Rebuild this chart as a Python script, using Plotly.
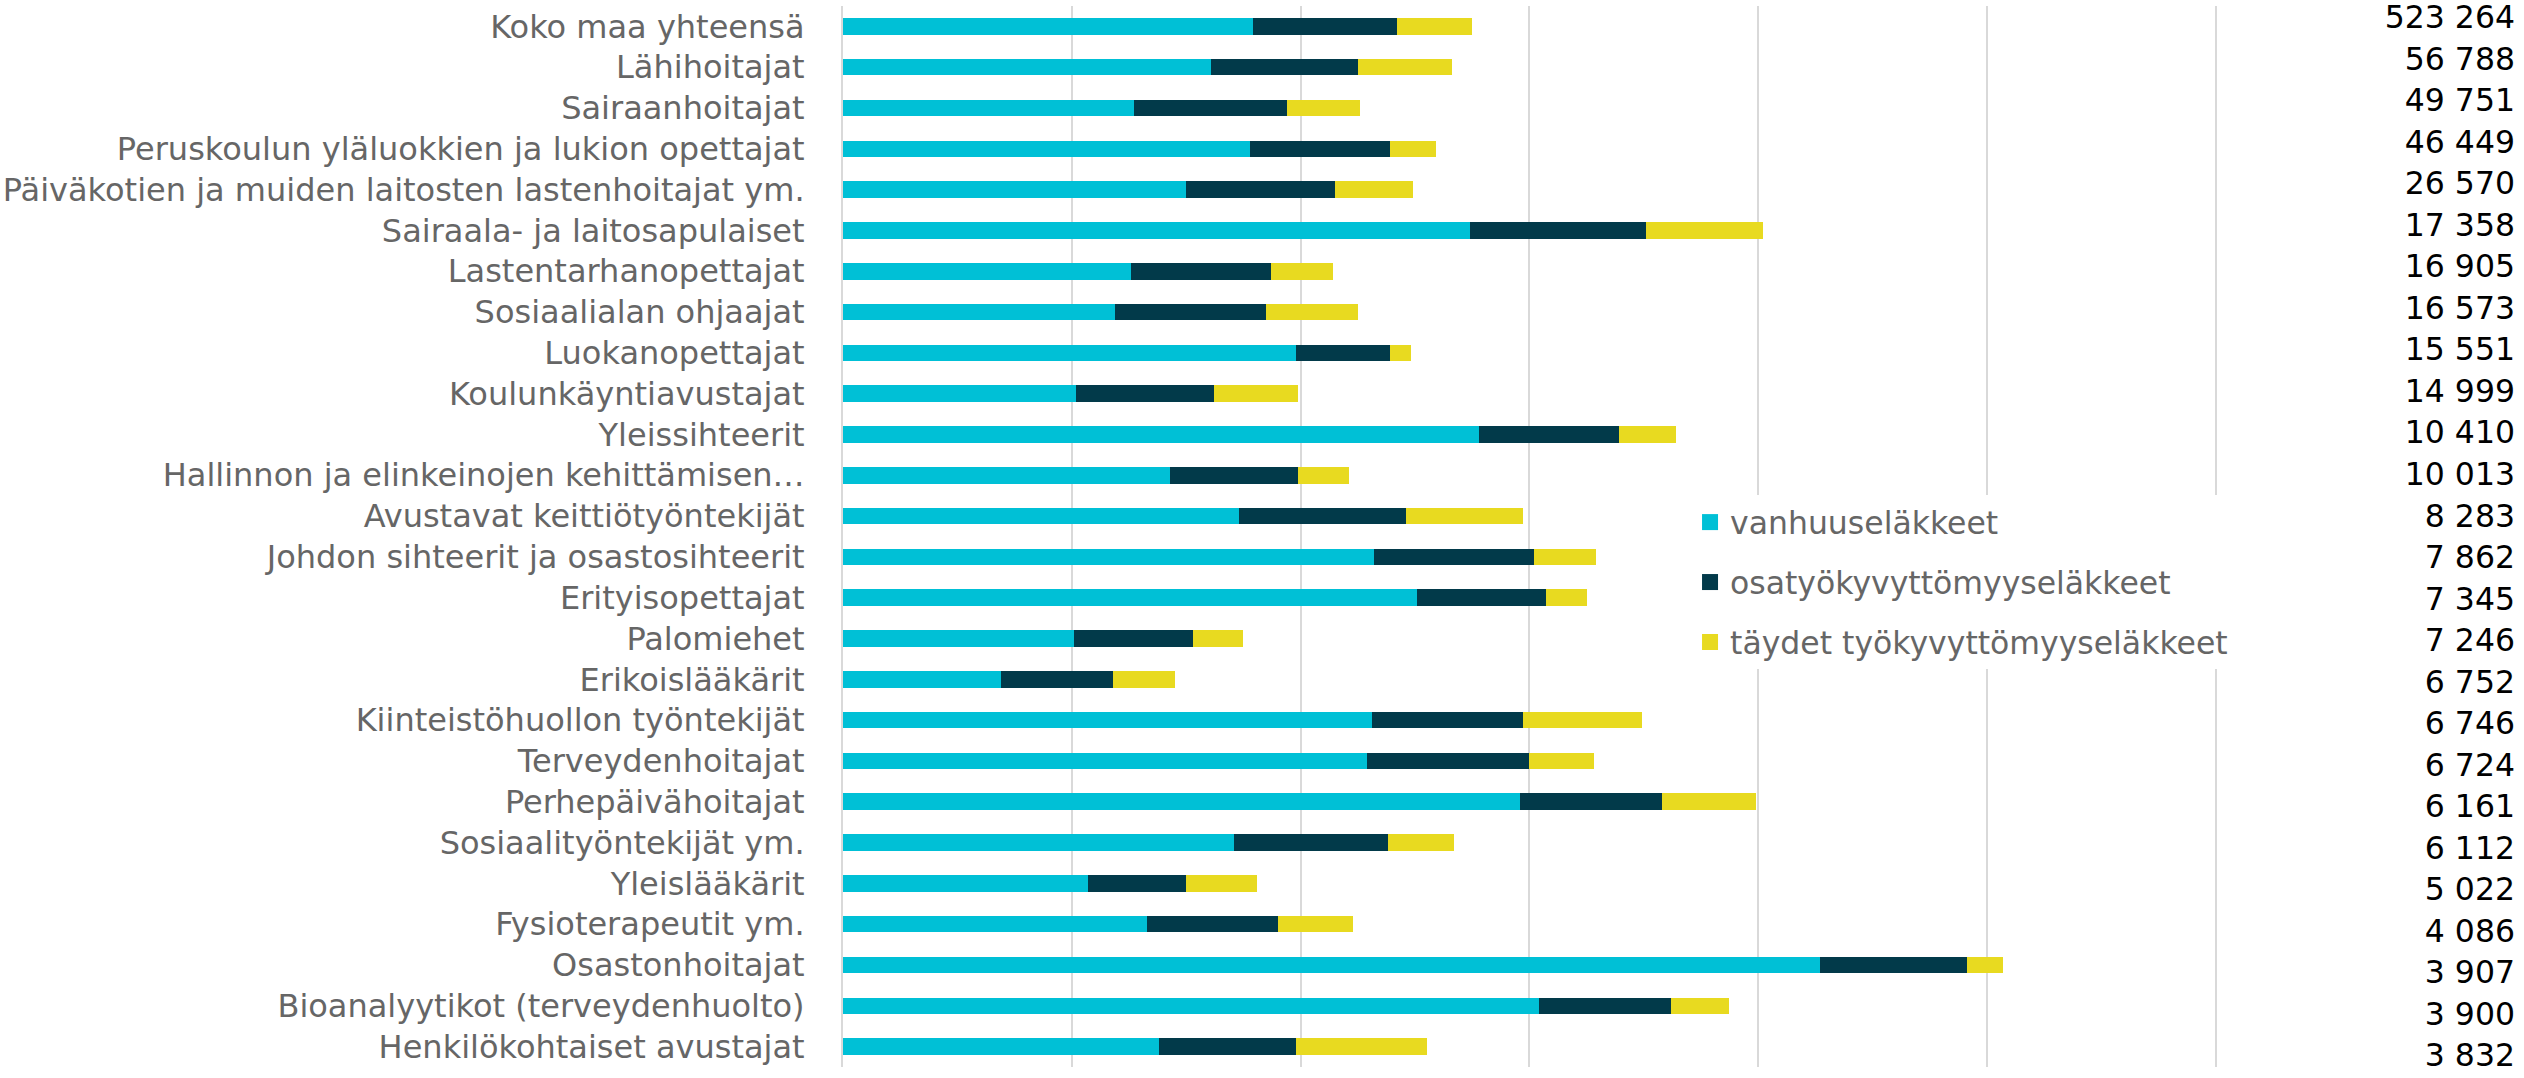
import plotly.graph_objects as go

# Occupations, top to bottom
categories = [
    "Koko maa yhteensä", "Lähihoitajat", "Sairaanhoitajat",
    "Peruskoulun yläluokkien ja lukion opettajat",
    "Päiväkotien ja muiden laitosten lastenhoitajat ym.",
    "Sairaala- ja laitosapulaiset", "Lastentarhanopettajat",
    "Sosiaalialan ohjaajat", "Luokanopettajat", "Koulunkäyntiavustajat",
    "Yleissihteerit", "Hallinnon ja elinkeinojen kehittämisen…",
    "Avustavat keittiötyöntekijät", "Johdon sihteerit ja osastosihteerit",
    "Erityisopettajat", "Palomiehet", "Erikoislääkärit",
    "Kiinteistöhuollon työntekijät", "Terveydenhoitajat",
    "Perhepäivähoitajat", "Sosiaalityöntekijät ym.", "Yleislääkärit",
    "Fysioterapeutit ym.", "Osastonhoitajat",
    "Bioanalyytikot (terveydenhuolto)", "Henkilökohtaiset avustajat",
]

# Series values
vanhuus = [1.79, 1.61, 1.27, 1.78, 1.50, 2.74, 1.26, 1.19, 1.98, 1.02, 2.78, 1.43, 1.73,
           2.32, 2.51, 1.01, 0.69, 2.31, 2.29, 2.96, 1.71, 1.07, 1.33, 4.27, 3.04, 1.38]
osatyo = [0.63, 0.64, 0.67, 0.61, 0.65, 0.77, 0.61, 0.66, 0.41, 0.60, 0.61, 0.56, 0.73,
          0.70, 0.56, 0.52, 0.49, 0.66, 0.71, 0.62, 0.67, 0.43, 0.57, 0.64, 0.58, 0.60]
taydet = [0.33, 0.41, 0.32, 0.20, 0.34, 0.51, 0.27, 0.40, 0.09, 0.37, 0.25, 0.22, 0.51,
          0.27, 0.18, 0.22, 0.27, 0.52, 0.28, 0.41, 0.29, 0.31, 0.33, 0.16, 0.25, 0.57]

# Totals shown in the right-hand column
totals = [523264, 56788, 49751, 46449, 26570, 17358, 16905, 16573, 15551, 14999,
          10410, 10013, 8283, 7862, 7345, 7246, 6752, 6746, 6724, 6161, 6112,
          5022, 4086, 3907, 3900, 3832]

series = [
    ("vanhuuseläkkeet", vanhuus, "#00C0D6"),
    ("osatyökyvyttömyyseläkkeet", osatyo, "#023A4A"),
    ("täydet työkyvyttömyyseläkkeet", taydet, "#E8DA20"),
]

FONT = "DejaVu Sans, Verdana, sans-serif"

fig = go.Figure()

for i, (name, vals, color) in enumerate(series):
    fig.add_trace(go.Bar(
        x=vals, y=categories, orientation="h", name=name,
        marker=dict(color=color, line=dict(width=0)),
        showlegend=False,
    ))
    # legend entry with a bigger square swatch
    fig.add_trace(go.Scatter(
        x=[None], y=[None], mode="markers", name=name,
        marker=dict(symbol="square", size=16, color=color, line=dict(width=0)),
        legendgroup=name, legendrank=i + 1, hoverinfo="skip",
    ))

# Totals column as a text trace on its own axes
fig.add_trace(go.Scatter(
    x=[1] * len(totals), y=categories,
    text=[f"{v:,}".replace(",", " ") for v in totals],
    mode="text", textposition="middle left", cliponaxis=False,
    textfont=dict(family=FONT, size=31.5, color="#000000"),
    xaxis="x2", yaxis="y2", showlegend=False, hoverinfo="skip",
))

fig.update_layout(
    width=2524, height=1078,
    margin=dict(l=843, r=9, t=6, b=11, autoexpand=False),
    barmode="stack", bargap=0.595,
    plot_bgcolor="white", paper_bgcolor="white",
    font=dict(family=FONT, size=32, color="#666666"),
    xaxis=dict(
        domain=[0, 0.8239], range=[0, 6.02], dtick=1, tick0=0,
        showticklabels=False, showgrid=True, gridcolor="#d9d9d9", gridwidth=1.5,
        zeroline=False, showline=False, automargin=False,
    ),
    yaxis=dict(
        autorange="reversed", showgrid=False, zeroline=False,
        showline=True, linecolor="#d9d9d9", linewidth=2,
        ticks="", ticklabelstandoff=30, automargin=False,
        tickfont=dict(family=FONT, size=32, color="#666666"),
    ),
    xaxis2=dict(domain=[0.83, 1], range=[0, 1], visible=False, anchor="y2"),
    yaxis2=dict(range=[25.21, -0.349], visible=False, anchor="x2", domain=[0, 1]),
    legend=dict(
        x=0.5066, y=0.539, xanchor="left", yanchor="top",
        bgcolor="white", traceorder="grouped", tracegroupgap=16,
        font=dict(family=FONT, size=31.5, color="#666666"),
        itemwidth=30,
    ),
    showlegend=True,
)

fig.write_html(
    "out.html",
    config={"displayModeBar": False},
    post_script="document.body.style.margin='0';",
)
